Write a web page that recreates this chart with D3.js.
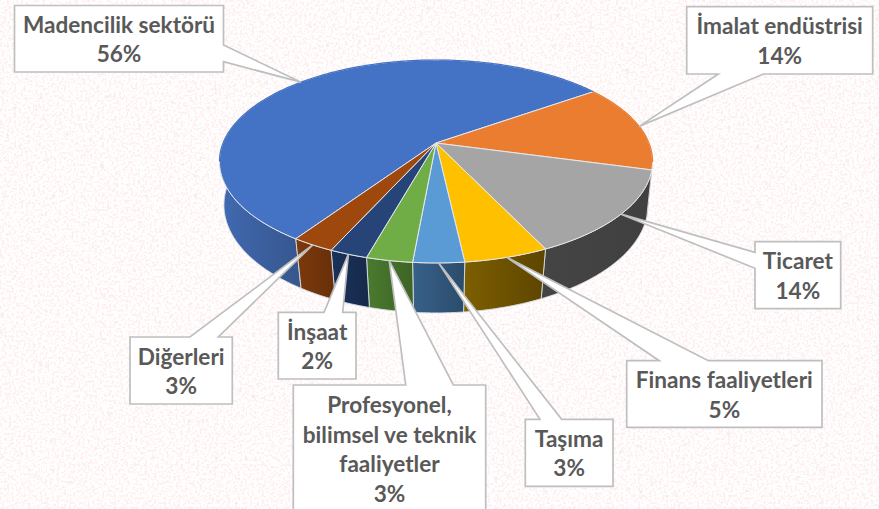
<!DOCTYPE html>
<html>
<head>
<meta charset="utf-8">
<script src="https://cdn.jsdelivr.net/npm/d3@7"></script>
<style>
    html, body { margin: 0; padding: 0; background: #fff; overflow: hidden; }
    svg { display: block; }
    .box-text { font-family: Lato, "Open Sans", sans-serif; font-weight: 700; font-size: 22.6px; fill: #595959; text-anchor: middle; }
</style>
</head>
<body>
<div id="chart"></div>
<script>
// labels, one entry per line of the callout (percent line comes from the values)
const labelLines = [
    ["Madencilik sektörü"],
    ["İmalat endüstrisi"],
    ["Ticaret"],
    ["Finans faaliyetleri"],
    ["Taşıma"],
    ["Profesyonel,", "bilimsel ve teknik", "faaliyetler"],
    ["İnşaat"],
    ["Diğerleri"]
];
const shares = [0.557, 0.14, 0.137, 0.053, 0.032, 0.029, 0.024, 0.027];

const topColors = ["#4472C4", "#EB7D31", "#A5A5A5", "#FFC000", "#5B9BD5", "#70AD47", "#264478", "#9E480E"];
const wallLeft = ["#416ab2", "#c0652a", "#444444", "#7d5e00", "#37618a", "#4a7a2e", "#1b3259", "#7c3a0c"];
const wallRight = ["#37578f", "#a5561f", "#404040", "#5c4500", "#2b4c6b", "#3e6426", "#162a4c", "#6a300a"];

// callout boxes: side the pointer leaves from, and where on that side it starts and ends
const boxes = [
    { x: 14.5, y: 5.5, w: 209, h: 66.5, side: "right", a: 45, b: 61.7 },
    { x: 686.7, y: 6.7, w: 186, h: 67.3, side: "bottom", a: 763.3, b: 718.3 },
    { x: 755, y: 241.7, w: 85.7, h: 67, side: "left", a: 268.3, b: 252.3 },
    { x: 626.7, y: 360.7, w: 195.3, h: 66.6, side: "top", a: 659.3, b: 708.3 },
    { x: 525.3, y: 419.3, w: 87.7, h: 67, side: "top", a: 540, b: 561.7 },
    { x: 293.3, y: 385, w: 192.4, h: 140, side: "top", a: 405.7, b: 453.3 },
    { x: 278.3, y: 312.3, w: 77.7, h: 66.7, side: "top", a: 324, b: 342.7 },
    { x: 130, y: 337, w: 102.3, h: 67, side: "top", a: 190, b: 218.3 }
];

const width = 879, height = 509;
const lineStep = 29.4;

// perspective of the tilted disc: top face and bottom face of the pie
const topFace = { cx: 436, cy: 143, rx: 212.9, ry: 98.1, k: 0.182 };
const bottomFace = { cx: 436, cy: 187.7, rx: 209.3, ry: 105.2, k: 0.16 };

function project(face, angle) {
    // angle is d3.pie style: clockwise from 12 o'clock
    let u = Math.sin(angle), v = -Math.cos(angle);
    let w = 1 - face.k * v;
    return [face.cx + face.rx * u / w, face.cy + face.ry * v / w];
}

const startAngle = 214 * Math.PI / 180;
const pie = d3.pie().sort(null).value(d => d)
    .startAngle(startAngle).endAngle(startAngle + 2 * Math.PI);
const slices = pie(shares);
const percent = d3.format(".0%");
const line = d3.line();

function rim(face, s) {
    let n = Math.ceil((s.endAngle - s.startAngle) / 0.015);
    return d3.range(n + 1).map(i => project(face, s.startAngle + (s.endAngle - s.startAngle) * i / n));
}

const svg = d3.select("#chart").append("svg")
    .attr("width", width)
    .attr("height", height);

const defs = svg.append("defs");

// speckled paper background
let pink = defs.append("filter").attr("id", "pinkNoise")
    .attr("x", 0).attr("y", 0).attr("width", "100%").attr("height", "100%");
pink.append("feTurbulence").attr("type", "fractalNoise").attr("baseFrequency", 0.42)
    .attr("numOctaves", 2).attr("seed", 4);
pink.append("feColorMatrix").attr("type", "matrix")
    .attr("values", "0 0 0 0 0.99  0 0 0 0 0.72  0 0 0 0 0.72  7 0 0 0 -3.3");

let grey = defs.append("filter").attr("id", "greyNoise")
    .attr("x", 0).attr("y", 0).attr("width", "100%").attr("height", "100%");
grey.append("feTurbulence").attr("type", "fractalNoise").attr("baseFrequency", 0.16)
    .attr("numOctaves", 3).attr("seed", 11);
grey.append("feColorMatrix").attr("type", "matrix")
    .attr("values", "0 0 0 0 0.72  0 0 0 0 0.74  0 0 0 0 0.74  0 9 0 0 -6.1");

svg.append("rect").attr("width", width).attr("height", height).attr("fill", "#fff");
svg.append("rect").attr("width", width).attr("height", height)
    .attr("filter", "url(#pinkNoise)").attr("opacity", 0.42);
svg.append("rect").attr("width", width).attr("height", height)
    .attr("filter", "url(#greyNoise)").attr("opacity", 0.28);

// side wall gradients, spanned over the part of each wall that faces the viewer
slices.forEach((s, i) => {
    let front = rim(topFace, s).filter(p => p[1] > topFace.cy + 15);
    let xs = d3.extent(front.length ? front : rim(topFace, s), p => p[0]);
    let g = defs.append("linearGradient").attr("id", "wall" + i)
        .attr("gradientUnits", "userSpaceOnUse")
        .attr("x1", xs[0]).attr("x2", xs[1]);
    g.append("stop").attr("offset", "0%").attr("stop-color", wallLeft[i]);
    g.append("stop").attr("offset", "100%").attr("stop-color", wallRight[i]);
});

// side walls
svg.append("g").selectAll("path")
    .data(slices)
    .join("path")
    .attr("d", s => line(rim(topFace, s).concat(rim(bottomFace, s).reverse())) + "Z")
    .attr("fill", (s, i) => "url(#wall" + i + ")")
    .attr("stroke", "#d9dde3")
    .attr("stroke-width", 0.9)
    .attr("stroke-linejoin", "round");

// top face
svg.append("g").selectAll("path")
    .data(slices)
    .join("path")
    .attr("d", s => line([[topFace.cx, topFace.cy]].concat(rim(topFace, s))) + "Z")
    .attr("fill", (s, i) => topColors[i])
    .attr("stroke", "#e6e8ec")
    .attr("stroke-width", 1)
    .attr("stroke-linejoin", "round");

// blue/orange rim at the back has no visible light edge in the picture, so repaint it
svg.append("g").selectAll("path")
    .data(slices.slice(0, 2))
    .join("path")
    .attr("d", s => line(rim(topFace, s).filter(p => p[1] < topFace.cy + 20)))
    .attr("fill", "none")
    .attr("stroke", (s, i) => topColors[i])
    .attr("stroke-width", 1.2);

// callouts
function calloutPoints(b, tip) {
    let r = b.x + b.w, t = b.y + b.h;
    if (b.side === "right") return [[b.x, b.y], [r, b.y], [r, b.a], tip, [r, b.b], [r, t], [b.x, t]];
    if (b.side === "bottom") return [[b.x, b.y], [r, b.y], [r, t], [b.a, t], tip, [b.b, t], [b.x, t]];
    if (b.side === "left") return [[b.x, b.y], [r, b.y], [r, t], [b.x, t], [b.x, b.a], tip, [b.x, b.b]];
    return [[b.x, b.y], [b.a, b.y], tip, [b.b, b.y], [r, b.y], [r, t], [b.x, t]];
}

const callouts = svg.append("g").selectAll("g")
    .data(slices)
    .join("g");

callouts.append("path")
    .attr("d", (s, i) => line(calloutPoints(boxes[i], project(topFace, (s.startAngle + s.endAngle) / 2))) + "Z")
    .attr("fill", "#fff")
    .attr("stroke", "#bfbfbf")
    .attr("stroke-width", 1.7)
    .attr("stroke-linejoin", "miter");

callouts.each(function (s, i) {
    let lines = labelLines[i].concat([percent(shares[i])]);
    let g = d3.select(this);
    let textBlock = lines.length * lineStep;
    // the tall box runs off the page, its text starts from the top
    let first = i === 5 ? boxes[i].y + 28.3 : boxes[i].y + (boxes[i].h - textBlock) / 2 + 23.5;
    lines.forEach((txt, j) => {
        g.append("text")
            .attr("class", "box-text")
            .attr("x", boxes[i].x + boxes[i].w / 2)
            .attr("y", first + j * lineStep)
            .text(txt);
    });
});
</script>
</body>
</html>
